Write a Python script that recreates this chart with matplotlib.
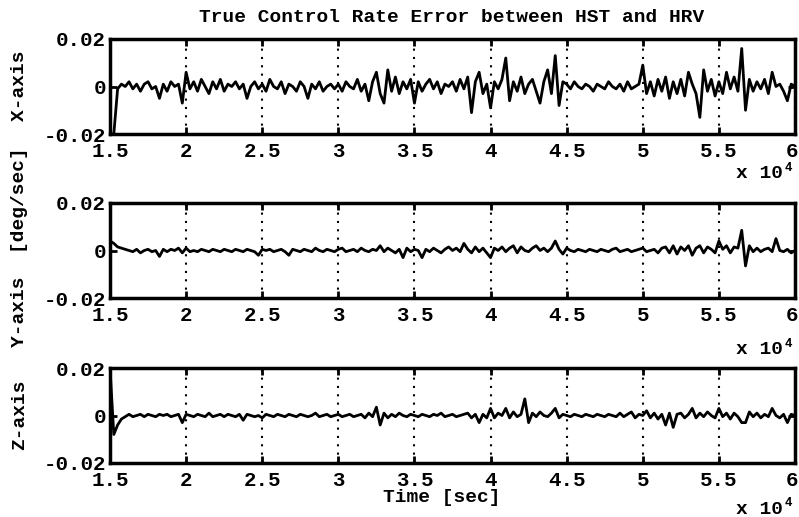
import numpy as np
import matplotlib
matplotlib.use("Agg")
import matplotlib.pyplot as plt
from matplotlib.transforms import ScaledTranslation

# time axis (x 10^4 sec), sampled every 250 sec
t = np.arange(0, 181) * 0.025 + 1.5

# rate errors, in units of 1e-3 deg/sec
x_err = [-20, -20, -1, 1, 0, 2, -1, 1, -2, 1,
         2, -1, 0, -5, 1, -2, 2, 0, 1, -7,
         6, -1, 2, -2, 3, 0, -3, 2, -1, 3,
         -2, 1, 0, 2, -1, 1, -5, 0, 2, -1,
         1, -2, 3, 0, -1, 2, -3, 1, 0, -2,
         2, 0, -5, 1, -1, 2, -2, 0, 1, -1,
         1, -2, 2, 0, -1, 3, -2, 1, -6, 2,
         6, -3, -7, 7, -2, 4, -3, 2, -1, 3,
         -7, 2, -2, 1, 3, -1, 2, -3, 1, 0,
         2, -2, 3, -1, 4, -11, 2, 6, -3, 1,
         -9, 2, -1, 3, 12, -6, 2, -2, 4, -3,
         1, 3, -2, -7, 2, 7, -3, 13, -8, 2,
         1, -1, 2, 0, -1, 1, 0, -2, 1, 0,
         -1, 2, 0, -1, 1, -2, 2, -1, 0, 1,
         9, -3, 2, -4, 3, -2, 4, -5, 2, -3,
         3, -4, 6, 1, -3, -13, 7, -2, 3, -4,
         2, -3, 6, -1, 4, -2, 16, -10, 3, -2,
         2, -1, 3, -3, 6, 0, 1, -2, -6, 1,
         0]

y_err = [4, 3, 1.5, 1, 0.5, 0, -0.5, 0.5, -1, 0,
         0.5, -0.5, 0, -2.5, 0.5, -0.5, 0.5, 0, 1, -1,
         1, -0.5, 0, -0.5, 0.5, 0, -0.5, 0.5, 0, -0.5,
         0.5, 0, -0.5, 0.5, 0, -0.5, 0.5, 0, -0.5, -2,
         0.5, 0, 0.5, -0.5, 0, 0.5, -0.5, -2, 0.5, 0,
         -0.5, 0.5, 0, -0.5, 1, 0, -0.5, 0.5, 0, -0.5,
         0.5, 1, -0.5, 0, 0.5, -0.5, 1, 0, -0.5, 0.5,
         0, 2, -0.5, 1, 0, -1, 0.5, -3, 1, -0.5,
         0.5, 0, -3, 0.5, -0.5, 1, 0, -1, 0.5, 1.5,
         0, 1, -0.5, 3, 0.5, -1, 1.5, -0.5, 1, -1,
         -3, 1, 0, 1.5, -0.5, 1, 2, -1, 1.5, 0,
         -0.5, 1, 2, 0, 1, -0.5, 1, 4, 0.5, -1.5,
         1, 0, -0.5, 0.5, 0, -0.5, 0.5, 0, -0.5, 0.5,
         0, -0.5, 0.5, 1, -0.5, 0, 0.5, -0.5, 0, 0.5,
         1, -0.5, 0, 0.5, -1, 1, 1.5, -1, 2, -1.5,
         1.5, 0, 2, -2, 1, 2, -1, 1.5, 0.5, -1,
         4, 0.5, 2, -1, 1.5, 1, 8.5, -6.5, 2, -0.5,
         1, -0.5, 0.5, 1, -0.5, 5, 0, -0.5, 0.5, -1,
         0]

z_err = [20, -8, -4, -1.5, -0.5, 0.5, -0.5, 0, 0.5, -0.5,
         0.5, 0, -0.5, 0.5, 0, 0.5, -0.5, 0, 0.5, -3,
         0.5, 0, -0.5, 0.5, 0, -0.5, 1, -0.5, 0, 0.5,
         -0.5, 0.5, 0, -0.5, 0.5, -2, 0.5, 0, -0.5, 0,
         -1, 0.5, 0, -0.5, 0.5, 0, -0.5, 0.5, 0, -0.5,
         0.5, 0, -0.5, 0, 1, -0.5, 0, 0.5, -0.5, 0,
         0.5, -0.5, 0, 0.5, -0.5, 0, 0.5, -1, 1, -0.5,
         3.5, -4, 1, -1, 0.5, -0.5, 1, 0, -0.5, 0.5,
         0, -0.5, 0.5, 0, -0.5, 0.5, 0, 1, -0.5, 0,
         0.5, -0.5, 0, 0.5, 1, -1, 0.5, -3, 0.5, -1,
         3, -1, 1, 0, 3, -1, 1.5, -0.5, 0.5, 7,
         -3, 1, -0.5, 1.5, 0, -0.5, 1, 3, -1, 0.5,
         0, -0.5, 0.5, 0, -0.5, 0.5, 0, -0.5, 0.5, 0,
         -0.5, 0.5, 0, -0.5, 1, -0.5, 0.5, 1.5, -1, 0.5,
         0, 2, -1, 1, -1.5, 0.5, -4, 1, -5, 0.5,
         1, -1, 0.5, 3, -1, 1, -0.5, 1.5, 0, -1,
         3, -0.5, 1, -1.5, 1, -0.5, -3, -3, 1.5, -0.5,
         1, -1, 0.5, -0.5, 3, 0, -1, 0.5, -3, 0.5,
         0]

xticks = [1.5, 2, 2.5, 3, 3.5, 4, 4.5, 5, 5.5, 6]
xticklabels = ["1.5", "2", "2.5", "3", "3.5", "4", "4.5", "5", "5.5", "6"]
yticks = [-0.02, 0, 0.02]
yticklabels = ["-0.02", "0", "0.02"]

plt.rcParams["font.family"] = ["Liberation Mono", "DejaVu Sans Mono"]
plt.rcParams["font.weight"] = "bold"

W, H = 799, 517
fig = plt.figure(figsize=(W / 100, H / 100), dpi=100)

def px(x, y):
    return x / W, 1 - y / H

panels = [(x_err, 39, 174, "X-axis"), (y_err, 203, 350, None), (z_err, 368, 509, "Z-axis")]
for vals, top, sci_y, lab in panels:
    l, b = px(110, top + 95)
    ax = fig.add_axes([l, b, 685 / W, 95 / H])
    ax.plot(t, np.array(vals) * 1e-3, color="black", lw=2.0)
    ax.set_xlim(1.5, 6)
    ax.set_ylim(-0.02, 0.02)
    ax.set_xticks(xticks)
    ax.set_xticklabels(xticklabels)
    ax.set_yticks(yticks)
    ax.set_yticklabels(yticklabels)
    ax.tick_params(direction="in", length=5, width=2, top=True, right=True,
                   labelsize=15)
    ax.tick_params(axis="x", pad=6)
    ax.tick_params(axis="y", pad=3)
    # keep the last tick label inside the figure
    last = ax.get_xticklabels()[-1]
    last.set_transform(last.get_transform() + ScaledTranslation(-3 / 100, 0, fig.dpi_scale_trans))
    ax.grid(axis="x", color="black", linestyle=(0, (1, 3)), lw=1.5)
    for s in ax.spines.values():
        s.set_linewidth(2.5)
    # x 10^4 multiplier
    fx, fy = px(783, sci_y)
    fig.text(fx, fy, "x 10", ha="right", va="center", fontsize=14)
    fx, fy = px(785, sci_y - 6)
    fig.text(fx, fy, "4", ha="left", va="center", fontsize=9)
    if lab:
        fx, fy = px(20, top + 47)
        fig.text(fx, fy, lab, rotation=90, ha="center", va="center", fontsize=14)

fx, fy = px(20, 247)
fig.text(fx, fy, "Y-axis  [deg/sec]", rotation=90, ha="center", va="center", fontsize=14)

fx, fy = px(452, 18)
fig.text(fx, fy, "True Control Rate Error between HST and HRV", ha="center", va="center", fontsize=14)

fx, fy = px(442, 498)
fig.text(fx, fy, "Time [sec]", ha="center", va="center", fontsize=14)

fig.savefig("out.png", dpi=100)
